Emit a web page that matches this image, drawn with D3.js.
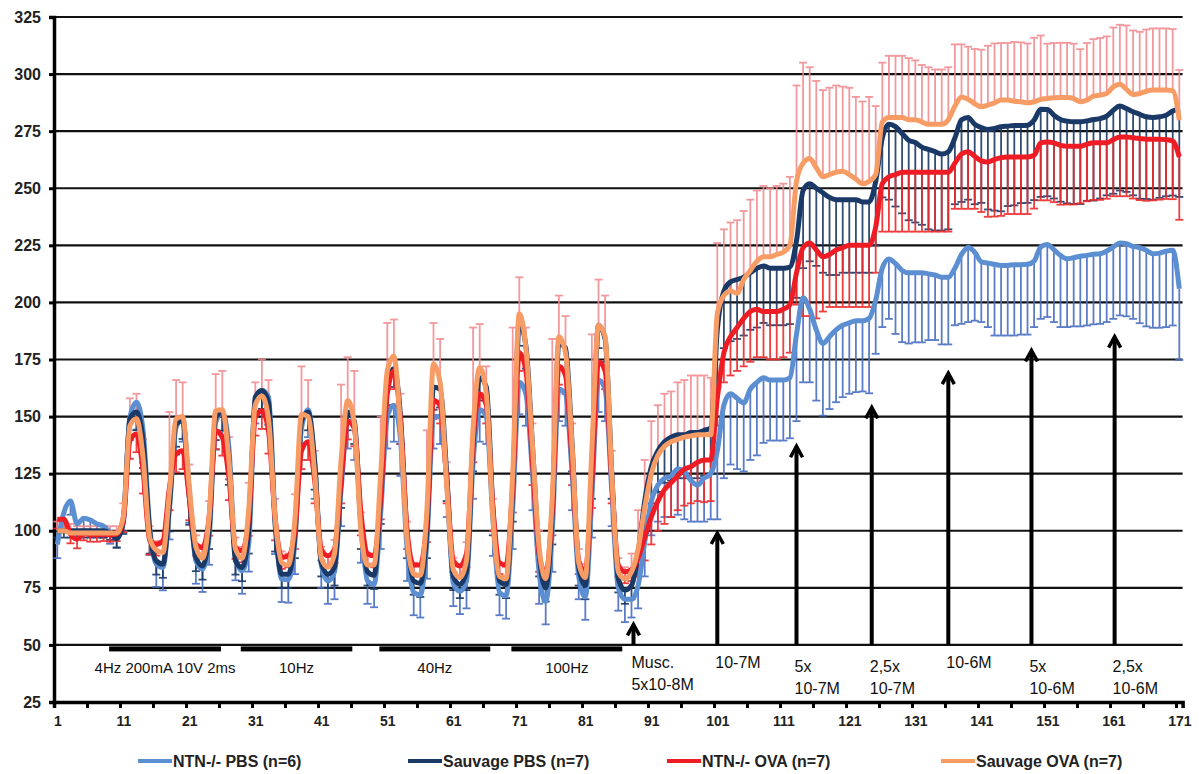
<!DOCTYPE html>
<html>
<head>
<meta charset="utf-8">
<script src="https://cdn.jsdelivr.net/npm/d3@7"></script>
<style>
  body { margin: 0; background: #fff; }
  svg { display: block; font-family: 'Liberation Sans', Arial, sans-serif; }
</style>
</head>
<body>
<svg id="chart" width="1199" height="774"></svg>
<script>
// Categories 1..171 (time points)
const categories = d3.range(1, 172);
const xTickLabels = [1, 11, 21, 31, 41, 51, 61, 71, 81, 91, 101, 111, 121, 131, 141, 151, 161, 171];
const yTicks = [25, 50, 75, 100, 125, 150, 175, 200, 225, 250, 275, 300, 325];

const seriesNames = ['NTN-/- PBS (n=6)', 'Sauvage PBS (n=7)', 'NTN-/- OVA (n=7)', 'Sauvage OVA (n=7)'];

// NTN-/- PBS
const ntnPbs = [
  94, 108, 113, 103, 105.5, 104.7, 103, 102, 99.3, 97.8,
  105.8, 149.7, 156.3, 143.8, 101.4, 85.4, 83.9, 110.2, 145.3, 149,
  117.5, 86.8, 83.2, 97.1, 147.5, 151.9, 136.5, 88.3, 82.4, 94.1,
  157, 161.4, 158.5, 105.8, 78.8, 78.5, 95, 145, 153, 130,
  85, 78, 82, 118, 148, 145, 102, 78, 76.5, 108,
  150, 155, 140, 92, 73, 72, 95, 150, 150, 122,
  77, 73.5, 78, 130, 153, 150, 105, 73, 71.5, 110,
  165, 160, 125, 82, 69, 100, 162, 160, 125, 80,
  71, 115, 166, 162, 118, 75, 70, 70, 76, 95,
  113, 120, 123, 124, 127, 126, 122, 120, 123, 125,
  135, 155, 160, 158, 156, 162, 165, 167, 166, 166,
  166, 167, 186, 202, 197, 188, 182, 185, 188, 190,
  191, 192, 192, 193, 201, 215, 219, 217, 214, 213,
  213, 213, 212.5, 212, 211, 211, 215, 221, 224, 222,
  217.8, 217.2, 216.7, 216.2, 216.2, 216.5, 216.5, 216.7, 218.1, 224.3,
  225.4, 223.1, 220.6, 219.1, 219.6, 220.2, 220.6, 221.1, 221.3, 222.5,
  224.3, 226, 225.7, 224.5, 224, 222.8, 221.3, 221.6, 222.4, 222.8,
  206
];
// Sauvage PBS
const sauvagePbs = [
  100, 100, 100, 100, 100, 100, 100, 100, 99, 96.5,
  103.6, 149, 152, 139.5, 100, 86.8, 85.4, 111.7, 146.8, 148.2,
  114.6, 88.3, 84.6, 100, 149.7, 151.9, 132.1, 86.8, 83.9, 100,
  158.5, 161.4, 156.3, 102.9, 81, 81, 98, 148, 152, 130,
  86, 81, 84, 122, 152, 148, 104, 82, 80.5, 115,
  165, 171, 150, 98, 78, 77, 100, 163, 162, 125,
  80, 76.5, 82, 138, 167, 163, 110, 78, 76.5, 118,
  191, 181, 137, 90, 75, 108, 182, 180, 138, 84,
  76, 128, 190, 184, 126, 79, 74, 76, 90, 113,
  128, 135, 139, 141, 142, 142, 143, 143, 144, 145,
  188, 205, 209, 210, 211, 213, 215, 216, 215, 215,
  215, 215.5, 227, 249, 252, 250, 248, 246, 245, 245,
  245, 245, 244, 244, 253, 272, 278, 277, 274, 271,
  270, 268, 267, 266, 265, 266, 272, 280, 281, 278,
  276.6, 275.7, 276.2, 276.9, 277.2, 277.5, 277.5, 277.6, 279.8, 284.6,
  284.5, 282, 280.1, 279.4, 279.1, 279.1, 279.5, 280.1, 280.5, 281.6,
  284.2, 286, 284.9, 283.5, 282.4, 281.3, 281, 281.3, 282, 283.8,
  284.9
];
// NTN-/- OVA
const ntnOva = [
  105, 105, 98.5, 96.3, 98.8, 98.2, 98.2, 98.5, 98.2, 98.5,
  104.4, 139.5, 142.4, 126.3, 95.6, 94.1, 95.6, 119, 133.6, 135,
  114.6, 94.1, 92.7, 105.8, 143.8, 140.9, 123.4, 92.7, 91.2, 105.8,
  149.7, 152.6, 143.8, 105.8, 88.3, 89, 100, 135, 139, 122,
  92, 89, 92, 122, 148, 145, 108, 90, 89, 115,
  160, 170, 148, 100, 85, 85, 105, 157, 155, 122,
  87, 84.6, 90, 140, 160, 155, 110, 86, 85, 120,
  178, 170, 130, 90, 81, 110, 172, 168, 130, 87,
  82, 122, 174, 170, 122, 85, 82, 83, 88, 97,
  106, 113, 118, 121, 124, 127, 128, 130, 131, 131,
  158, 178, 185, 189, 193, 196, 197, 196, 196, 196,
  197, 199, 213, 224, 226, 223, 220, 221, 223, 224,
  225, 225, 225, 225, 233, 252, 255, 256, 257, 257,
  257, 257, 257, 257, 257, 257, 261, 265, 266, 264,
  262, 261.5, 262.6, 263.4, 263.7, 263.7, 263.7, 263.7, 264.4, 269.9,
  270.3, 269.9, 268.8, 268.4, 268.4, 268.4, 269.3, 269.9, 269.9, 269.9,
  271.3, 272.5, 272.5, 272.1, 271.8, 271.5, 271.5, 271.5, 271.3, 270.7,
  263.7
];
// Sauvage OVA
const sauvageOva = [
  100, 100, 99, 99, 99, 99, 99, 99, 99, 99,
  106, 146, 149, 132, 97, 91.5, 90.5, 117, 149, 150,
  119, 93, 88, 106, 152.6, 153, 131, 92, 88, 109,
  155, 159, 149, 106, 86, 85, 105, 151, 150, 125,
  88, 84, 90, 131, 157, 147, 100, 85, 85, 125,
  170, 176.5, 145, 96, 81, 80.5, 109, 173, 165, 120,
  83, 79.5, 87, 145, 171.5, 160, 106, 80, 79, 125,
  195, 180, 137, 93, 79, 115, 185, 178, 137, 86,
  79.5, 136, 190, 185, 125, 82, 79, 82, 92, 110,
  125, 133, 137, 139, 140, 141, 141.5, 142, 142, 142,
  195, 203, 205, 204, 210, 214, 218, 220, 220, 221,
  222, 225, 253, 261, 263, 259, 255, 256, 257, 257.5,
  256, 254, 252, 253, 256, 279, 281, 281, 281, 280,
  280, 279, 278, 278, 278, 280, 286, 290, 289, 287,
  285.7, 286.4, 287.4, 288.6, 288.6, 288.1, 287.9, 287.4, 287.9, 288.9,
  289.3, 289.6, 289.7, 289.7, 289.3, 287.9, 288.6, 290.3, 290.8, 291.5,
  294.4, 295.6, 293.3, 291.1, 291.5, 292.5, 293, 293, 293, 292.7,
  279.8
];

// error bars (SEM): PBS / NTN OVA drawn downward, Sauvage OVA drawn upward
const ntnPbsErr = [
  6, 6, 6, 5, 5, 5, 5, 5, 5, 5,
  6, 10, 12, 14, 12, 10, 10, 14, 12, 10,
  14, 10, 10, 12, 12, 10, 14, 10, 10, 12,
  10, 10, 14, 16, 10, 10, 14, 14, 12, 16,
  10, 10, 12, 16, 12, 14, 16, 10, 10, 16,
  14, 16, 16, 14, 10, 10, 16, 14, 12, 16,
  10, 10, 12, 16, 14, 12, 16, 10, 10, 18,
  14, 14, 16, 14, 10, 18, 14, 14, 16, 10,
  10, 18, 14, 14, 16, 10, 10, 8, 10, 15,
  15, 16, 17, 18, 20, 21, 18, 16, 19, 20,
  30, 32, 31, 31, 30, 31, 32, 28.5, 26.5, 26.5,
  26.5, 26.5, 38, 37, 32, 31, 31.6, 31.7, 31.7, 31.5,
  31, 31.3, 31, 32.8, 23.5, 25.8, 26.2, 30.8, 31.4, 31,
  30.5, 30.5, 29, 28.5, 29.4, 29.4, 25, 30.4, 32.6, 30,
  26.4, 28, 31.2, 30.7, 30.7, 31, 30.6, 30.8, 28.9, 31.5,
  31.8, 31.7, 31.4, 29.9, 30.1, 30.7, 30.7, 30.7, 30.7, 31.1,
  31.5, 31.7, 31.8, 31.7, 33.1, 33.3, 32.4, 32.7, 33.2, 32.9,
  31.2
];
const sauvagePbsErr = [
  3, 3, 3, 3, 3, 3, 3, 3, 3, 4,
  5, 8, 8, 12, 10, 6, 6, 12, 10, 8,
  12, 6, 6, 8, 10, 8, 12, 6, 6, 10,
  8, 8, 10, 12, 6, 6, 10, 10, 8, 12,
  6, 6, 8, 12, 8, 10, 12, 6, 6, 12,
  10, 8, 12, 10, 6, 6, 12, 10, 8, 12,
  6, 6, 8, 12, 10, 10, 12, 6, 6, 14,
  10, 10, 12, 10, 6, 14, 10, 10, 12, 8,
  6, 14, 10, 10, 12, 6, 6, 6, 10, 14,
  16, 18, 18, 19, 19, 19, 20, 20, 20, 20,
  25, 25, 26, 26, 25.5, 25, 26, 25, 25, 25,
  25, 25, 25, 34, 34, 34, 35, 34, 33, 32,
  32, 32, 31, 31, 28, 26, 33, 35, 35, 35,
  35, 34, 35, 34.5, 33.5, 34, 29, 36, 36, 35,
  33, 35, 36, 37, 35, 35, 34, 34, 35, 38.4,
  38, 36.5, 36, 36, 36, 36, 35, 35.5, 35, 34.7,
  36.6, 37, 36.5, 36.6, 37, 36, 36, 35.5, 35.5, 37,
  38.7
];
const ntnOvaErr = [
  4, 4, 4, 4, 3, 3, 3, 3, 3, 3,
  5, 8, 8, 10, 6, 5, 5, 10, 8, 8,
  10, 5, 5, 8, 8, 8, 10, 5, 5, 8,
  8, 8, 10, 10, 5, 5, 8, 8, 8, 10,
  5, 5, 6, 10, 8, 8, 10, 5, 5, 10,
  8, 8, 10, 8, 5, 5, 10, 8, 8, 10,
  5, 5, 6, 10, 8, 8, 10, 5, 5, 12,
  8, 8, 10, 8, 5, 12, 8, 8, 10, 6,
  5, 12, 8, 8, 10, 5, 5, 5, 8, 10,
  12, 13, 15, 15, 15, 16, 16, 17, 18.5, 18,
  12, 13, 17, 19, 21, 22, 21, 20, 21, 21,
  21, 21, 14, 30, 32, 30, 24, 23, 25, 26,
  27, 27, 27, 27, 20, 21, 24, 25, 26, 26,
  26, 26, 26, 26, 26, 26, 20, 24, 25, 23,
  22.4, 24, 25, 25.5, 25, 25, 25, 25, 23.3, 25.2,
  25.6, 26, 26, 25.5, 25.5, 25, 25, 25, 25, 24.5,
  24.8, 26, 26, 26.6, 27, 27, 26.8, 26.5, 26, 25.5,
  27.5
];
const sauvageOvaErr = [
  4, 4, 4, 3, 3, 3, 3, 3, 3, 3,
  6, 12, 11, 8, 5, 4, 4, 35, 17, 15,
  10, 5, 4, 7, 16, 17, 10, 5, 5, 12,
  10, 16, 17, 8, 5, 5, 11, 21, 16, 10,
  5, 5, 6, 33, 19, 23, 8, 5, 5, 25,
  21, 16, 15, 8, 5, 5, 35, 18, 19, 10,
  5, 5, 8, 44, 19, 12, 8, 5, 5, 64,
  16, 9, 10, 7, 5, 69, 18, 16, 10, 6,
  6, 50, 20, 18, 10, 6, 5, 8, 17, 21,
  23, 22, 23, 22, 25, 25, 26.5, 26, 26, 25,
  31, 29, 30, 32, 30, 31, 31, 31, 30, 30,
  30, 30, 42, 44, 40, 38, 38, 38, 38, 37,
  38, 36, 36, 37, 30, 26, 27, 27, 27, 27,
  26, 25, 25, 24, 24, 23, 27, 23, 23, 24,
  25, 26, 26, 25, 25, 26, 26, 26, 28, 28,
  24, 24, 24, 24, 24, 23, 25, 25, 25, 25,
  26, 26, 28, 28, 27, 27, 27, 27, 27, 27,
  22
];

// stimulation blocks (in category units) and their labels
const stimStart = [8.85, 28.8, 49.8, 69.8];
const stimEnd = [25.8, 45.7, 66.6, 86.6];
const stimLabels = ['4Hz 200mA 10V 2ms', '10Hz', '40Hz', '100Hz'];

// drug additions: arrow position (category), arrow tip (value), label lines
const arrowAt = [88.3, 101, 113, 124.4, 136, 148.6, 161.2];
const arrowTip = [59, 99, 137, 154, 169, 179, 185];
const arrowLabels = [['Musc.', '5x10-8M'], ['10-7M'], ['5x', '10-7M'], ['2,5x', '10-7M'], ['10-6M'], ['5x', '10-6M'], ['2,5x', '10-6M']];

const lineColors = ['#5b8fd1', '#1a3966', '#ee1d25', '#f89c66'];
const errColors = ['#4a70c2', '#1a3966', '#ee2a2a', '#f2878b'];
const errDir = [-1, -1, -1, 1];

const svg = d3.select('#chart');
svg.append('rect').attr('width', 1199).attr('height', 774).attr('fill', '#fff');

const x = d3.scaleLinear().domain([0.5, 171.5]).range([54, 1182.6]);
const y = d3.scaleLinear().domain([25, 325]).range([702, 17]);

// gridlines
svg.append('g')
  .selectAll('line')
  .data(yTicks.filter(d => d > 25))
  .join('line')
  .attr('x1', x(0.5)).attr('x2', x(171.5))
  .attr('y1', d => y(d)).attr('y2', d => y(d))
  .attr('stroke', '#111')
  .attr('stroke-width', 2.2);

// y axis
const yAxis = svg.append('g')
  .attr('transform', `translate(${x(0.5)},0)`)
  .call(d3.axisLeft(y).tickValues(yTicks).tickSize(5).tickPadding(8));
yAxis.select('.domain').attr('stroke', '#000').attr('stroke-width', 3.5);
yAxis.selectAll('.tick line').attr('stroke', '#000').attr('stroke-width', 3);
yAxis.selectAll('.tick text')
  .attr('font-size', 16).attr('font-weight', 'bold').attr('fill', '#222')
  .attr('font-family', "'Liberation Sans', Arial, sans-serif");

// x axis: tick marks at category boundaries, labels every 10
const xAxis = svg.append('g')
  .attr('transform', `translate(0,${y(25)})`)
  .call(d3.axisBottom(x).tickValues(d3.range(0.5, 171, 5)).tickSize(6).tickFormat(''));
xAxis.select('.domain').attr('stroke', '#000').attr('stroke-width', 3.5);
xAxis.selectAll('.tick line').attr('stroke', '#000').attr('stroke-width', 3);

const xLab = svg.append('g')
  .attr('transform', `translate(0,${y(25)})`)
  .call(d3.axisBottom(x).tickValues(xTickLabels).tickSize(0).tickPadding(14).tickFormat(d3.format('d')));
xLab.select('.domain').remove();
xLab.selectAll('.tick text')
  .attr('font-size', 14).attr('font-weight', 'bold').attr('fill', '#222')
  .attr('font-family', "'Liberation Sans', Arial, sans-serif");

// error bars
const allSeries = [ntnPbs, sauvagePbs, ntnOva, sauvageOva];
const allErr = [ntnPbsErr, sauvagePbsErr, ntnOvaErr, sauvageOvaErr];
allSeries.forEach((vals, s) => {
  const g = svg.append('g')
    .attr('stroke', errColors[s])
    .attr('stroke-width', 1.8)
    .attr('opacity', s === 3 ? 0.85 : 0.9);
  const pts = categories.map((c, i) => ({ c, v: vals[i], e: vals[i] + errDir[s] * allErr[s][i] }));
  g.selectAll('line.bar')
    .data(pts)
    .join('line')
    .attr('class', 'bar')
    .attr('x1', d => x(d.c)).attr('x2', d => x(d.c))
    .attr('y1', d => y(d.v)).attr('y2', d => y(d.e));
  g.selectAll('line.cap')
    .data(pts)
    .join('line')
    .attr('class', 'cap')
    .attr('x1', d => x(d.c) - 4).attr('x2', d => x(d.c) + 4)
    .attr('y1', d => y(d.e)).attr('y2', d => y(d.e));
});

// series lines
const line = d3.line()
  .x((d, i) => x(categories[i]))
  .y(d => y(d))
  .curve(d3.curveMonotoneX);
allSeries.forEach((vals, s) => {
  svg.append('path')
    .datum(vals)
    .attr('d', line)
    .attr('fill', 'none')
    .attr('stroke', lineColors[s])
    .attr('stroke-width', 5)
    .attr('stroke-linejoin', 'round');
});

// stimulation bars
svg.append('g')
  .selectAll('rect')
  .data(stimStart)
  .join('rect')
  .attr('x', d => x(d))
  .attr('width', (d, i) => x(stimEnd[i]) - x(d))
  .attr('y', y(50) + 1.5)
  .attr('height', 5)
  .attr('fill', '#000');

svg.append('g')
  .selectAll('text')
  .data(stimLabels)
  .join('text')
  .attr('x', (d, i) => x((stimStart[i] + stimEnd[i]) / 2))
  .attr('y', y(50) + 28)
  .attr('text-anchor', 'middle')
  .attr('font-size', 15)
  .attr('fill', '#111')
  .text(d => d);

// arrows
const arrows = svg.append('g').attr('stroke', '#000').attr('fill', 'none');
arrowAt.forEach((a, i) => {
  const ax = x(a), ty = y(arrowTip[i]);
  arrows.append('line')
    .attr('x1', ax).attr('x2', ax)
    .attr('y1', y(50)).attr('y2', ty + 2)
    .attr('stroke-width', 4);
  arrows.append('path')
    .attr('d', `M${ax - 6},${ty + 11}L${ax},${ty}L${ax + 6},${ty + 11}`)
    .attr('stroke-width', 3.5)
    .attr('stroke-linejoin', 'miter');
});

const arrowText = svg.append('g').attr('font-size', 16).attr('fill', '#111');
arrowLabels.forEach((lines, i) => {
  const ax = x(arrowAt[i]) - 2;
  const first = lines.length === 2 && i > 0 ? y(50) + 27 : y(50) + 23;
  lines.forEach((t, k) => {
    arrowText.append('text')
      .attr('x', ax)
      .attr('y', first + k * 22)
      .text(t);
  });
});

// legend
const legendX = [138, 408, 667, 941];
const legend = svg.append('g').attr('transform', 'translate(0,761)');
seriesNames.forEach((n, i) => {
  legend.append('line')
    .attr('x1', legendX[i]).attr('x2', legendX[i] + 34)
    .attr('y1', 0).attr('y2', 0)
    .attr('stroke', lineColors[i])
    .attr('stroke-width', 4);
  legend.append('text')
    .attr('x', legendX[i] + 35)
    .attr('y', 6)
    .attr('font-size', 16)
    .attr('font-weight', 'bold')
    .attr('fill', '#222')
    .text(n);
});
</script>
</body>
</html>
